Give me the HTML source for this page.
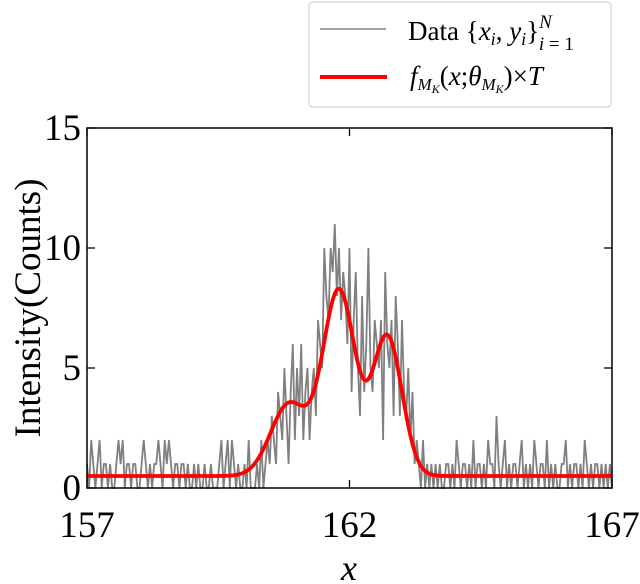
<!DOCTYPE html>
<html><head><meta charset="utf-8"><style>
html,body{margin:0;padding:0;background:#fff;}
svg{display:block;}
text{font-family:"Liberation Serif","Times New Roman","DejaVu Serif","Noto Serif CJK SC",serif;}
</style></head><body>
<svg id="chart" width="640" height="584" viewBox="0 0 640 584" xmlns="http://www.w3.org/2000/svg">
<g id="plot"></g>
<g id="axes"></g>
<text x="0" y="0" transform="translate(40,308) rotate(-90)" text-anchor="middle" font-size="37">Intensity(Counts)</text>
<text x="349" y="580" text-anchor="middle" font-size="36" font-style="italic">x</text>
<g>
<rect x="309" y="2" width="302" height="105" rx="4" fill="#fff" stroke="#d0d0d0" stroke-width="1.2"/>
<line x1="320" y1="29" x2="386" y2="29" stroke="#808080" stroke-width="1.5"/>
<text x="408" y="40" font-size="27">Data {<tspan font-style="italic">x</tspan><tspan font-style="italic" font-size="18" dy="5">i</tspan><tspan dy="-5">, </tspan><tspan font-style="italic">y</tspan><tspan font-style="italic" font-size="18" dy="5">i</tspan><tspan dy="-5">}</tspan><tspan font-style="italic" font-size="19" dy="-12">N</tspan><tspan font-size="19" dx="-13" dy="22"><tspan font-style="italic">i</tspan> = 1</tspan></text>
<line x1="320" y1="77" x2="387" y2="77" stroke="#ff0000" stroke-width="4"/>
<text x="410" y="85" font-size="27"><tspan font-style="italic">f</tspan><tspan font-style="italic" font-size="17" dy="5">M</tspan><tspan font-style="italic" font-size="12" dy="3">K</tspan><tspan dy="-8">(</tspan><tspan font-style="italic">x</tspan>;<tspan font-style="italic">θ</tspan><tspan font-style="italic" font-size="17" dy="5">M</tspan><tspan font-style="italic" font-size="12" dy="3">K</tspan><tspan dy="-8">)×</tspan><tspan font-style="italic">T</tspan></text>
</g>
</svg>
<script>
const xStart = 157, xStep = 0.04;
const counts = [
1,0,2,1,0,1,2,0,1,1,0,1,0,0,1,2,1,2,0,1,1,0,1,1,0,0,1,2,1,0,1,0,1,1,2,1,0,2,1,2,1,0,1,1,0,1,1,0,1,0,0,1,0,1,0,0,1,0,0,1,0,0,0,1,2,0,1,2,0,2,1,0,1,0,0,1,0,2,0,0,
0,1,0,2,0,1,2,1,3,2,1,4,
3,2,5,3,1,4,6,2,5,3,6,2,4,
5,2,4,5,3,7,6,5,
10,8,7,10,9,11,8,10,7,9,8,6,10,
4,7,9,5,3,8,4,6,10,5,4,7,6,
5,7,2,9,6,5,7,3,8,6,3,7,4,
3,5,2,4,1,2,1,0,2,0,1,0,1,
0,1,0,1,0,0,1,1,0,1,0,2,1,0,1,1,0,1,0,2,0,1,1,0,1,0,2,1,1,0,3,1,0,1,2,0,1,0,1,1,0,1,2,0,1,0,1,0,2,1,0,1,1,0,2,0,1,0,1,0,0,1,1,2,0,1,0,1,1,0,1,0,2,1,0,1,0,1,1,0,1,0,1,0,1,0
];
const fitBaseline = 0.5;
const peakCenters = [160.85, 161.8, 162.72];
const peakAmps = [3.0, 7.7, 5.8];
const peakWidths = [0.35, 0.31, 0.28];
const xTicks = [157, 162, 167];
const yTicks = [0, 5, 10, 15];
const xMin = 157, xMax = 167, yMin = 0, yMax = 15;
const L = 87, R = 612, T = 128, B = 488;
const sx = v => L + (v - xMin) / (xMax - xMin) * (R - L);
const sy = v => B - (v - yMin) / (yMax - yMin) * (B - T);
const NS = "http://www.w3.org/2000/svg";
const plot = document.getElementById('plot'), axes = document.getElementById('axes');
function mk(tag, attrs, parent){const e=document.createElementNS(NS,tag);for(const k in attrs)e.setAttribute(k,attrs[k]);parent.appendChild(e);return e;}
let d = counts.map((c,i)=>(i?'L':'M')+sx(xStart+i*xStep).toFixed(2)+','+sy(c).toFixed(2)).join('');
const dl = mk('path',{d:d,fill:'none',stroke:'#808080','stroke-width':1.8},plot);


function fit(x){let y=fitBaseline;for(let k=0;k<peakCenters.length;k++){y+=peakAmps[k]*Math.exp(-0.5*Math.pow((x-peakCenters[k])/peakWidths[k],2));}return y;}
let fd='';for(let i=0;i<=600;i++){const x=xMin+(xMax-xMin)*i/600;fd+=(i?'L':'M')+sx(x).toFixed(2)+','+sy(fit(x)).toFixed(2);}
const fl = mk('path',{d:fd,fill:'none',stroke:'#ff0000','stroke-width':3.8,'stroke-linejoin':'round'},plot);


const fr = mk('rect',{x:L,y:T,width:R-L,height:B-T,fill:'none',stroke:'#000','stroke-width':1.5},axes);


xTicks.forEach(v=>{
  const x=sx(v);
  const t1=mk('line',{x1:x,y1:B,x2:x,y2:B-8,stroke:'#000','stroke-width':1.3},axes);
  
  
  const t2=mk('line',{x1:x,y1:T,x2:x,y2:T+8,stroke:'#000','stroke-width':1.3},axes);
  
  
  const lb=mk('text',{x:x,y:B+49,'text-anchor':'middle','font-size':37},axes);
  lb.textContent=v;
  
  
});
yTicks.forEach(v=>{
  const y=sy(v);
  const t1=mk('line',{x1:L,y1:y,x2:L+8,y2:y,stroke:'#000','stroke-width':1.3},axes);
  
  
  const t2=mk('line',{x1:R,y1:y,x2:R-8,y2:y,stroke:'#000','stroke-width':1.3},axes);
  
  
  const lb=mk('text',{x:L-6,y:y+12,'text-anchor':'end','font-size':37},axes);
  lb.textContent=v;
  
  
});
</script>
</body></html>
